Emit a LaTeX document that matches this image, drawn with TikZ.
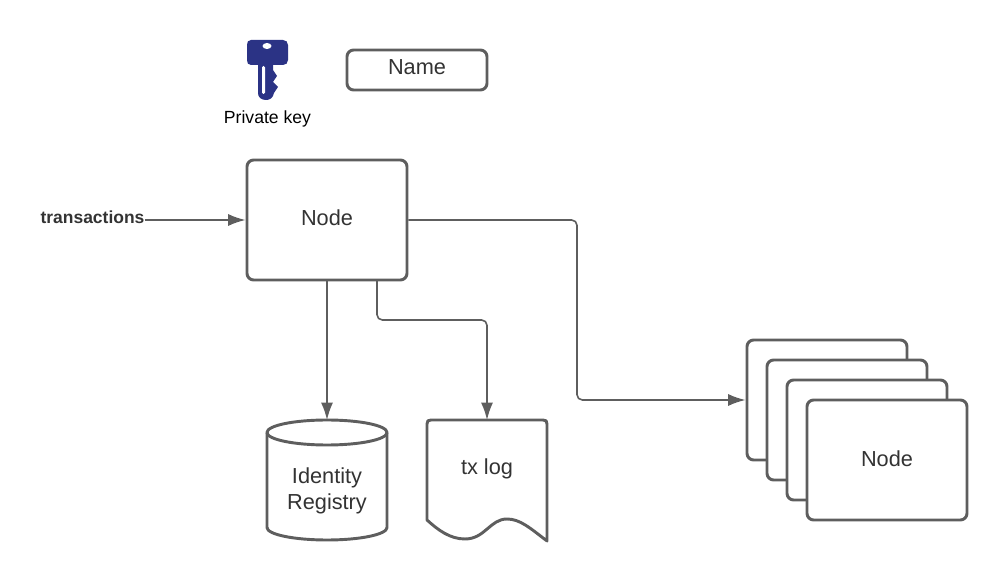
\documentclass[tikz,border=0pt]{standalone}
\usepackage{fontspec}
\setmainfont{Liberation Sans}
\usetikzlibrary{arrows.meta}
\definecolor{linegray}{HTML}{5E5E5E}
\definecolor{textgray}{HTML}{333333}
\definecolor{keyblue}{HTML}{2B3385}
\tikzset{
    box/.style={draw=linegray, line width=2.2pt, rounded corners=5pt, fill=white, text=textgray,
        font=\fontsize{16.3}{19}\selectfont, minimum width=120pt, minimum height=90pt, inner sep=0pt},
    conn/.style={draw=linegray, line width=1.2pt, rounded corners=4pt, -{Latex[length=13pt, width=9pt]}},
}
\begin{document}
\begin{tikzpicture}[x=0.75pt, y=-0.75pt]
    \useasboundingbox (0, 0) rectangle (1007, 580);

    % Key
    \fill[keyblue]
        (251, 40) -- (283, 40) .. controls (286, 40) and (288, 42) .. (288, 45)
        -- (288, 60) .. controls (288, 63) and (286, 65) .. (283, 65)
        -- (273, 65) -- (273, 70) -- (277, 76) -- (273, 82) -- (278, 87) -- (274, 93)
        .. controls (273, 98) and (270, 100) .. (266, 100)
        .. controls (261, 100) and (258, 97) .. (258, 93)
        -- (258, 65) -- (251, 65) .. controls (248, 65) and (247, 63) .. (247, 60)
        -- (247, 45) .. controls (247, 42) and (248, 40) .. (251, 40) -- cycle;
    \fill[white] (267, 46) ellipse (4.5 and 3);
    \fill[white, rounded corners=1pt] (262, 66) rectangle (265, 94);
    \node[text=black, font=\fontsize{13.2}{15}\selectfont] (keylabel) at (267.5, 119) {Private key};

    % Legend
    \node[box, minimum width=105pt, minimum height=30pt] (name) at (417, 70) {\raisebox{5pt}{Name}};

    % Main node
    \node[box] (node) at (327, 220) {\raisebox{3pt}{Node}};
    \node[text=textgray, font=\fontsize{13.1}{15}\selectfont\bfseries, inner sep=0pt] (transactions) at (92.5, 217.5) {transactions};

    % Identity registry
    \coordinate (regtop) at (327, 420);
    \draw[draw=linegray, line width=2.2pt, fill=white, line join=round]
        (267, 432.5) .. controls (267, 425.5) and (294, 420) .. (regtop)
        .. controls (360, 420) and (387, 425.5) .. (387, 432.5)
        -- (387, 527.5) .. controls (387, 534.5) and (360, 540) .. (327, 540)
        .. controls (294, 540) and (267, 534.5) .. (267, 527.5) -- cycle;
    \draw[draw=linegray, line width=2.2pt]
        (267, 432.5) .. controls (267, 439.5) and (294, 445) .. (327, 445)
        .. controls (360, 445) and (387, 439.5) .. (387, 432.5);
    \node[text=textgray, align=center, font=\fontsize{16.3}{20}\selectfont] (registrylabel) at (327, 491) {Identity\\Registry};

    % Log
    \coordinate (logtop) at (487, 420);
    \draw[draw=linegray, line width=2.2pt, fill=white, line join=round]
        (427, 424) .. controls (427, 421) and (428, 420) .. (431, 420) -- (543, 420)
        .. controls (546, 420) and (547, 421) .. (547, 424) -- (547, 541)
        .. controls (530, 528) and (520, 519) .. (507, 519)
        .. controls (490, 519) and (485, 539) .. (465, 539)
        .. controls (450, 539) and (438, 530) .. (427, 520) -- cycle;
    \node[text=textgray, font=\fontsize{16.3}{19}\selectfont] (txlog) at (487, 468.5) {tx log};

    % Stack of peers
    \node[box] (peerA) at (827, 400) {};
    \node[box] (peerB) at (847, 420) {};
    \node[box] (peerC) at (867, 440) {};
    \node[box] (peerD) at (887, 460) {\raisebox{2pt}{Node}};

    % Connectors
    \coordinate (nodeS) at (377, 280);
    \draw[conn] (transactions.east) ++(0, 2.5) -- (node.west);
    \draw[conn] (node.south) -- (regtop);
    \draw[conn] (nodeS) -- (377, 320) -- (487, 320) -- (logtop);
    \draw[conn] (node.east) -- (577, 220) -- (577, 400) -- (peerA.west);

\end{tikzpicture}
\end{document}
